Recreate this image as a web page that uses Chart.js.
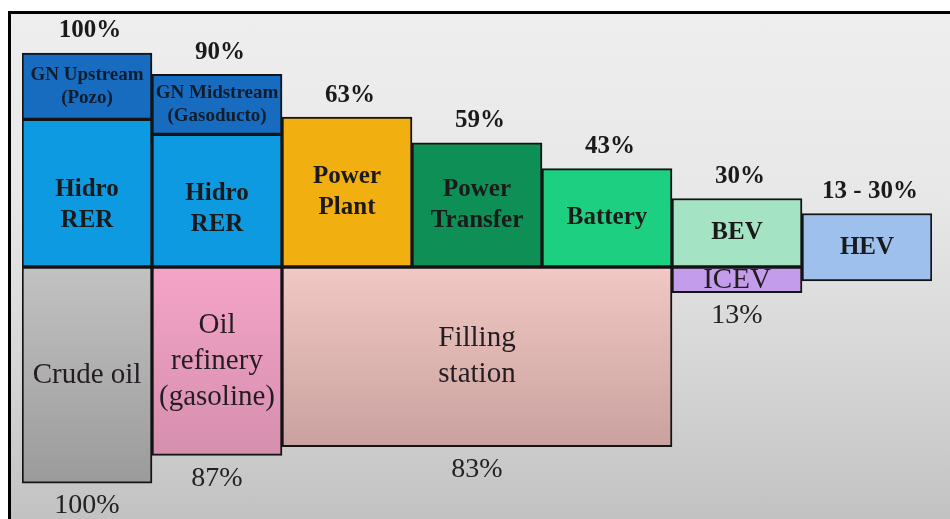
<!DOCTYPE html>
<html>
<head>
<meta charset="utf-8">
<script src="https://cdn.jsdelivr.net/npm/chart.js@4.4.1/dist/chart.umd.min.js"></script>
<style>
  html, body { margin: 0; padding: 0; background: #fff; }
  #wrap { position: absolute; left: 0; top: 0; width: 950px; height: 519px; background: #fff; }
  #frame {
    position: absolute; left: 8px; top: 11px; right: 0; bottom: 0;
    border-top: 3px solid #000; border-left: 3px solid #000;
    background: linear-gradient(to bottom, #eeeeee 0%, #e8e8e8 35%, #d6d6d6 70%, #c2c2c2 100%);
  }
  #box { position: absolute; left: 0; top: 0; width: 950px; height: 519px; }
</style>
</head>
<body>
<div id="wrap">
  <div id="frame"></div>
  <div id="box"><canvas id="chain"></canvas></div>
</div>
<script>
// Stages of the energy chain (one column each)
const stages = ['Upstream', 'Midstream', 'Generation', 'Transfer', 'Storage', 'Vehicle', 'Hybrid'];

// Natural gas segments [bottom, top]
const gasSegment = [[69, 100], [62, 90], null, null, null, null, null];
const gasLabels = [['GN Upstream', '(Pozo)'], ['GN Midstream', '(Gasoducto)'], null, null, null, null, null];

// Electric path segments [bottom, top]
const electricSegment = [[0, 69], [0, 62], [0, 70], [0, 58], [0, 46], [0, 32], [-6.5, 25]];
const electricLabels = [['Hidro', 'RER'], ['Hidro', 'RER'], ['Power', 'Plant'], ['Power', 'Transfer'], ['Battery'], ['BEV'], ['HEV']];

// Oil path segments [bottom, top] (filling station covers three stages)
const oilSegment = [[-101, 0], [-88, 0], [-84, 0], [-84, 0], [-84, 0], [-12, 0], null];
const oilLabels = [['Crude oil'], ['Oil', 'refinery', '(gasoline)'], null, ['Filling', 'station'], null, ['ICEV'], null];

// Efficiency labels
const topPercent = ['100%', '90%', '63%', '59%', '43%', '30%', '13 - 30%'];
const bottomPercent = ['100%', '87%', null, '83%', null, '13%', null];

const serif = "'Liberation Serif', 'Times New Roman', serif";

function vGrad(ctx, from, to, c1, c2) {
    const chart = ctx.chart;
    const y = chart.scales.y;
    if (!y || !chart.chartArea) return c1;
    const g = chart.ctx.createLinearGradient(0, y.getPixelForValue(from), 0, y.getPixelForValue(to));
    g.addColorStop(0, c1);
    g.addColorStop(1, c2);
    return g;
}

const gasColors = ['#186cc0', '#186cc0'];
const electricColors = ['#0d9ae1', '#0d9ae1', '#f1b010', '#0e8f56', '#1dcf81', '#a5e3c5', '#9dc0ec'];

function oilColor(ctx) {
    const i = ctx.dataIndex;
    if (i === 0) return vGrad(ctx, 0, -101, '#c2c2c2', '#9b9b9b');
    if (i === 1) return vGrad(ctx, 0, -88, '#f4a4c7', '#d68fae');
    if (i >= 2 && i <= 4) return vGrad(ctx, 0, -84, '#f1c8c3', '#c9a19e');
    return '#c39ceb';
}

// filling station is one box spread over three columns: hide inner borders
function oilBorder(ctx) {
    const i = ctx.dataIndex;
    if (i === 2) return { top: 2, bottom: 2, left: 2, right: 0 };
    if (i === 3) return { top: 2, bottom: 2, left: 0, right: 0 };
    if (i === 4) return { top: 2, bottom: 2, left: 0, right: 2 };
    return 2;
}

const boxText = {
    id: 'boxText',
    afterDatasetsDraw(chart) {
        const ctx = chart.ctx;
        const y = chart.scales.y;
        ctx.save();
        ctx.textAlign = 'center';
        ctx.textBaseline = 'middle';
        chart.data.datasets.forEach((ds, di) => {
            const meta = chart.getDatasetMeta(di);
            meta.data.forEach((el, i) => {
                const lines = ds.boxLabels[i];
                if (!lines) return;
                const dy = ds.labelShift ? ds.labelShift[i] || 0 : 0;
                const yc = (el.y + el.base) / 2 + dy;
                ctx.font = ds.labelFont;
                ctx.fillStyle = ds.labelColor;
                const start = yc - (lines.length - 1) * ds.lineHeight / 2;
                lines.forEach((t, k) => ctx.fillText(t, el.x, start + k * ds.lineHeight));
            });
        });

        // efficiency percentages above and below each column
        const xs = chart.scales.x;
        stages.forEach((s, i) => {
            const segs = [gasSegment[i], electricSegment[i], oilSegment[i]].filter(Boolean);
            const hi = Math.max(...segs.map(v => v[1]));
            const lo = Math.min(...segs.map(v => v[0]));
            const x = xs.getPixelForValue(i);
            if (topPercent[i]) {
                ctx.font = 'bold 25px ' + serif;
                ctx.fillStyle = '#1a1a1a';
                ctx.fillText(topPercent[i], x + 3, y.getPixelForValue(hi) - 22);
            }
            if (bottomPercent[i]) {
                ctx.font = '28px ' + serif;
                ctx.fillStyle = '#222';
                ctx.fillText(bottomPercent[i], x, y.getPixelForValue(lo) + 23);
            }
        });
        ctx.restore();
    }
};

new Chart(document.getElementById('chain'), {
    type: 'bar',
    data: {
        labels: stages,
        datasets: [
            {
                label: 'Gas natural',
                data: gasSegment,
                backgroundColor: gasColors,
                boxLabels: gasLabels,
                labelFont: 'bold 19px ' + serif,
                labelColor: '#0f1c2c',
                lineHeight: 23
            },
            {
                label: 'Electric',
                data: electricSegment,
                backgroundColor: electricColors,
                boxLabels: electricLabels,
                labelShift: [12, 8, 0, 0, 0, 0, 0],
                labelFont: 'bold 25px ' + serif,
                labelColor: '#1a1a1a',
                lineHeight: 31
            },
            {
                label: 'Oil',
                data: oilSegment,
                backgroundColor: oilColor,
                borderWidth: oilBorder,
                boxLabels: oilLabels,
                labelShift: [0, 0, 0, 0, 0, 1, 0],
                labelFont: '29px ' + serif,
                labelColor: '#231d22',
                lineHeight: 36
            }
        ]
    },
    options: {
        responsive: true,
        maintainAspectRatio: false,
        animation: false,
        layout: { padding: { left: 22, right: 18, top: 0, bottom: 0 } },
        datasets: {
            bar: {
                grouped: false,
                barPercentage: 1,
                categoryPercentage: 1,
                borderColor: '#141414',
                borderWidth: 2,
                borderSkipped: false
            }
        },
        scales: {
            x: { display: false },
            y: { display: false, min: -117.76, max: 124.77 }
        },
        plugins: {
            legend: { display: false },
            tooltip: { enabled: false }
        }
    },
    plugins: [boxText]
});
</script>
</body>
</html>
